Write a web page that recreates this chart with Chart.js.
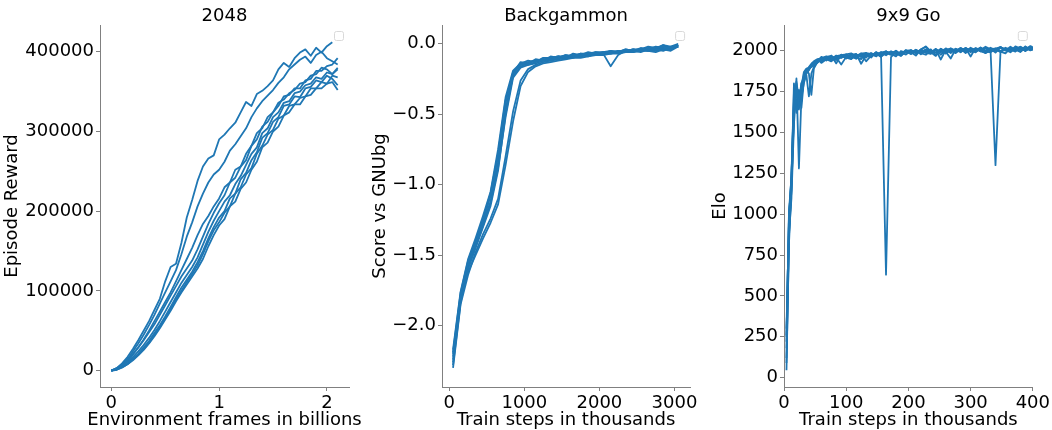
<!DOCTYPE html>
<html>
<head>
<meta charset="utf-8">
<title>Training curves</title>
<script src="https://cdn.jsdelivr.net/npm/chart.js@4.4.1/dist/chart.umd.min.js"></script>
<style>
  html, body { margin: 0; padding: 0; background: #fff; }
  body { width: 1052px; height: 430px; position: relative; overflow: hidden; }
  canvas { position: absolute; top: 0; }
</style>
</head>
<body>
<canvas id="chart2048" width="368" height="430" style="left:0"></canvas>
<canvas id="chartBackgammon" width="332" height="430" style="left:368px"></canvas>
<canvas id="chartGo" width="352" height="430" style="left:700px"></canvas>
<script>
// 2048 - frames in billions, episode reward in thousands (one array per seed)
const FRAMES = [0, 0.05, 0.1, 0.15, 0.2, 0.25, 0.3, 0.35, 0.4, 0.45, 0.5, 0.55, 0.6, 0.65, 0.7, 0.75, 0.8, 0.85, 0.9, 0.95,
  1.0, 1.05, 1.1, 1.15, 1.2, 1.25, 1.3, 1.35, 1.4, 1.45, 1.5, 1.55, 1.6, 1.65, 1.7, 1.75, 1.8, 1.85, 1.9, 1.95, 2.0, 2.05, 2.1];
const REWARD_A = [0, 3, 9, 17, 27, 38, 50, 62, 76, 90, 112, 130, 134, 160, 192, 214, 238, 256, 266, 270,
  290, 296, 304, 311, 324, 337, 332, 347, 351, 357, 364, 378, 386, 381, 392, 399, 403, 395, 405, 399, 407, 412];
const REWARD_B = [0, 2, 7, 14, 24, 34, 45, 57, 70, 84, 98, 112, 126, 146, 168, 186, 206, 222, 236, 246,
  252, 262, 276, 284, 294, 304, 318, 329, 338, 345, 352, 361, 368, 378, 384, 390, 394, 386, 396, 400, 392, 388, 384];
const REWARD_C = [0, 2, 6, 12, 20, 29, 39, 50, 62, 74, 86, 98, 112, 126, 140, 154, 170, 184, 194, 206,
  216, 230, 236, 252, 256, 272, 282, 298, 304, 318, 324, 336, 340, 348, 352, 360, 362, 370, 372, 380, 378, 372, 380];
const REWARD_D = [0, 2, 6, 11, 17, 24, 32, 41, 51, 62, 74, 86, 98, 110, 120, 130, 142, 158, 174, 188,
  200, 212, 220, 234, 244, 258, 272, 280, 298, 304, 318, 324, 336, 338, 348, 350, 358, 360, 368, 366, 374, 372, 378];
const REWARD_E = [0, 2, 5, 9, 15, 21, 29, 37, 47, 57, 68, 80, 92, 104, 114, 124, 136, 150, 166, 180,
  192, 200, 216, 222, 240, 248, 264, 274, 292, 298, 312, 318, 332, 334, 344, 343, 354, 356, 364, 362, 370, 366, 358];
const REWARD_F = [0, 1, 4, 8, 14, 20, 27, 35, 45, 55, 66, 77, 89, 100, 111, 121, 132, 146, 162, 176,
  186, 198, 206, 222, 230, 246, 254, 272, 282, 296, 302, 316, 320, 332, 334, 342, 344, 354, 354, 362, 360, 370, 368];
const REWARD_G = [0, 1, 4, 8, 13, 19, 26, 34, 43, 53, 64, 75, 87, 98, 108, 118, 128, 140, 156, 170,
  182, 190, 206, 212, 228, 236, 252, 262, 280, 286, 300, 306, 320, 324, 334, 334, 344, 346, 354, 354, 360, 362, 352];
const REWARD_H = [0, 3, 8, 14, 21, 29, 38, 48, 58, 70, 82, 94, 106, 118, 128, 138, 152, 168, 184, 198,
  210, 220, 236, 242, 256, 264, 282, 290, 306, 312, 324, 332, 344, 346, 354, 354, 364, 366, 376, 376, 382, 384, 392];
const FRAME_TICKS = [0, 1, 2];
const REWARD_TICKS = [0, 100000, 200000, 300000, 400000];

// Backgammon - train steps in thousands, score vs GNUbg
const BG_STEPS = [50, 150, 250, 350, 450, 550, 650, 750, 850, 950, 1050, 1150, 1250, 1350, 1450, 1550,
  1650, 1750, 1850, 1950, 2050, 2150, 2250, 2350, 2450, 2550, 2650, 2750, 2850, 2950, 3050];
const BG_1 = [-2.20, -1.80, -1.56, -1.42, -1.26, -1.08, -0.80, -0.42, -0.20, -0.15, -0.13, -0.12, -0.12, -0.10, -0.09, -0.09,
  -0.08, -0.08, -0.07, -0.07, -0.06, -0.06, -0.05, -0.05, -0.04, -0.05, -0.03, -0.03, -0.02, -0.03, -0.01];
const BG_2 = [-2.28, -1.84, -1.60, -1.45, -1.30, -1.15, -0.90, -0.50, -0.22, -0.14, -0.15, -0.13, -0.11, -0.11, -0.10, -0.08,
  -0.09, -0.07, -0.08, -0.06, -0.07, -0.05, -0.06, -0.04, -0.05, -0.03, -0.04, -0.02, -0.03, -0.04, -0.01];
const BG_3 = [-2.17, -1.76, -1.53, -1.38, -1.22, -1.05, -0.75, -0.38, -0.19, -0.14, -0.12, -0.13, -0.10, -0.10, -0.09, -0.10,
  -0.07, -0.08, -0.06, -0.07, -0.07, -0.16, -0.08, -0.05, -0.04, -0.04, -0.05, -0.03, -0.01, -0.02, -0.02];
const BG_4 = [-2.24, -1.82, -1.62, -1.50, -1.38, -1.27, -1.14, -0.86, -0.55, -0.30, -0.20, -0.16, -0.14, -0.13, -0.12, -0.11,
  -0.10, -0.10, -0.09, -0.08, -0.08, -0.07, -0.07, -0.06, -0.06, -0.05, -0.05, -0.04, -0.05, -0.03, -0.02];
const BG_5 = [-2.30, -1.85, -1.64, -1.48, -1.35, -1.24, -1.10, -0.80, -0.48, -0.26, -0.18, -0.15, -0.13, -0.12, -0.11, -0.10,
  -0.09, -0.09, -0.08, -0.08, -0.07, -0.07, -0.06, -0.05, -0.06, -0.04, -0.05, -0.06, -0.04, -0.05, -0.02];
const BG_6 = [-2.22, -1.79, -1.57, -1.41, -1.27, -1.12, -0.84, -0.46, -0.23, -0.16, -0.14, -0.12, -0.11, -0.12, -0.09, -0.10,
  -0.08, -0.09, -0.07, -0.08, -0.06, -0.07, -0.05, -0.06, -0.04, -0.05, -0.03, -0.04, -0.01, -0.03, -0.02];
const BG_7 = [-2.19, -1.77, -1.54, -1.40, -1.24, -1.06, -0.78, -0.40, -0.21, -0.13, -0.14, -0.11, -0.12, -0.09, -0.10, -0.08,
  -0.09, -0.07, -0.07, -0.06, -0.06, -0.05, -0.06, -0.04, -0.05, -0.04, -0.02, -0.03, -0.04, -0.02, 0.00];
const BG_8 = [-2.26, -1.81, -1.59, -1.44, -1.29, -1.13, -0.88, -0.52, -0.24, -0.17, -0.15, -0.14, -0.12, -0.11, -0.11, -0.09,
  -0.10, -0.08, -0.09, -0.07, -0.07, -0.06, -0.06, -0.05, -0.05, -0.06, -0.04, -0.05, -0.03, -0.04, -0.01];
const BG_STEP_TICKS = [0, 1000, 2000, 3000];
const BG_SCORE_TICKS = [-2.0, -1.5, -1.0, -0.5, 0.0];

// 9x9 Go - train steps in thousands, Elo
const GO_STEPS = [4, 8, 12, 16, 20, 24, 28, 32, 36, 40, 44, 48, 52, 56,
  60, 68, 76, 84, 92, 100, 108, 116, 124, 132, 140, 148, 156, 164, 172, 180, 188, 196, 204, 212, 220, 228,
  236, 244, 252, 260, 268, 276, 284, 292, 300, 308, 316, 324, 332, 340, 348, 356, 364, 372, 380, 388, 396, 404];
const GO_1 = [45, 860, 1180, 1640, 1810, 1650, 1700, 1860, 1880, 1890, 1900, 1910, 1925, 1935,
  1945, 1960, 1938, 1965, 1955, 1972, 1950, 1978, 1962, 1982, 1968, 1990, 1975, 630, 1960, 1992, 1972, 1998, 1980, 2004, 1985, 1975,
  2002, 1988, 2010, 1982, 2004, 1990, 2012, 1986, 2008, 1994, 2014, 1990, 1996, 2006, 1992, 2012, 1998, 2018, 1994, 2016, 2002, 2010];
const GO_2 = [250, 1000, 1200, 1800, 1620, 1690, 1780, 1870, 1890, 1895, 1905, 1920, 1930, 1940,
  1930, 1950, 1962, 1942, 1968, 1955, 1975, 1960, 1948, 1982, 1970, 1985, 1965, 1990, 1978, 1996, 1972, 1998, 1985, 2004, 1978, 2000,
  1990, 1968, 2008, 1992, 2004, 1985, 2010, 1996, 2002, 2014, 1995, 1988, 2012, 1998, 2020, 2004, 1990, 2016, 2022, 2000, 2014, 1998];
const GO_3 = [120, 900, 1150, 1600, 1830, 1280, 1720, 1800, 1860, 1880, 1910, 1925, 1935, 1945,
  1958, 1940, 1965, 1952, 1972, 1958, 1948, 1975, 1962, 1985, 1980, 1966, 1988, 1972, 1994, 1978, 1990, 1976, 2000, 1984, 1998, 1986,
  1980, 2006, 1990, 2004, 1992, 2010, 1996, 2014, 1998, 2010, 2002, 1985, 2004, 1300, 1990, 2012, 2000, 2020, 2004, 2024, 2006, 2018];
const GO_4 = [300, 950, 1250, 1700, 1660, 1750, 1650, 1820, 1850, 1720, 1860, 1900, 1920, 1940,
  1925, 1948, 1935, 1958, 1915, 1962, 1970, 1950, 1978, 1935, 1970, 1982, 1962, 1988, 1974, 1992, 1970, 1996, 1980, 2000, 1982, 2004,
  1990, 2010, 1975, 2006, 1985, 2012, 1994, 2016, 1990, 2012, 1996, 2018, 2000, 2010, 1994, 1984, 2016, 2002, 2020, 1998, 2024, 2008];
const GO_5 = [180, 880, 1100, 1550, 1780, 1700, 1800, 1840, 1870, 1890, 1915, 1930, 1940, 1950,
  1955, 1965, 1948, 1970, 1960, 1978, 1984, 1962, 1980, 1958, 1986, 1970, 1992, 1978, 1996, 1982, 1968, 1998, 2004, 1984, 2006, 1990,
  2008, 1972, 2012, 1996, 2014, 2000, 2016, 1994, 2018, 2002, 2020, 1998, 1990, 2012, 2022, 2000, 2024, 2006, 1992, 2026, 2004, 2030];
const GO_6 = [220, 1020, 1220, 1750, 1640, 1760, 1690, 1850, 1875, 1900, 1920, 1935, 1945, 1950,
  1940, 1962, 1968, 1950, 1972, 1978, 1960, 1955, 1982, 1986, 1962, 1990, 1974, 1996, 1980, 2000, 1978, 2004, 1990, 1970, 2008, 2024,
  1984, 2006, 1946, 2004, 2012, 1992, 2016, 2002, 2010, 1994, 2018, 2000, 2012, 1988, 2020, 2008, 1996, 2026, 2012, 2000, 2022, 2008];
const GO_7 = [90, 820, 1160, 1620, 1800, 1720, 1760, 1830, 1880, 1860, 1730, 1890, 1920, 1935,
  1962, 1945, 1970, 1922, 1976, 1960, 1980, 1966, 1984, 1972, 1958, 1990, 1974, 1994, 1982, 1965, 1998, 1986, 2002, 1990, 2006, 2026,
  1996, 1988, 2008, 1994, 1952, 2010, 1996, 2014, 1964, 2016, 2004, 2024, 2008, 2014, 1998, 2018, 2006, 1994, 2020, 2008, 2028, 2014];
const GO_8 = [260, 980, 1230, 1680, 1700, 1640, 1800, 1810, 1860, 1885, 1905, 1915, 1930, 1945,
  1936, 1958, 1944, 1966, 1972, 1952, 1974, 1980, 1920, 1970, 1982, 1966, 1988, 1996, 1980, 1998, 1974, 2000, 1986, 2006, 1990, 2008,
  1984, 2010, 1992, 2014, 1998, 2006, 1990, 2016, 2002, 1990, 2014, 2000, 2018, 2004, 2022, 2006, 2012, 2000, 2024, 2008, 2018, 2012];
const GO_STEP_TICKS = [0, 100, 200, 300, 400];
const ELO_TICKS = [0, 250, 500, 750, 1000, 1250, 1500, 1750, 2000];

// Styling
const BLUE = '#1f77b4';
const SPINE = '#808080';
const INK = '#000';
const FONT_FAMILY = "'DejaVu Sans', sans-serif";
const FONT = { family: FONT_FAMILY, size: 18, weight: 'normal' };
const TEXT_FONT = { family: FONT_FAMILY, size: 18, weight: 'normal', lineHeight: 1 };

function toPoints(xs, ys, factor = 1) {
  return ys.map((y, i) => ({ x: xs[i], y: y * factor }));
}

function lineSet(points) {
  return {
    data: points,
    borderColor: BLUE,
    borderWidth: 1.8,
    borderJoinStyle: 'round',
    pointRadius: 0,
    tension: 0,
    fill: false
  };
}

// matplotlib draws an empty legend frame in the top right corner,
// and lets the x label run wider than the axes, so draw both here
const panelExtras = {
  id: 'panelExtras',
  afterDraw(chart, args, opts) {
    const { ctx, chartArea } = chart;
    ctx.save();
    ctx.strokeStyle = '#d9d9d9';
    ctx.lineWidth = 1;
    ctx.beginPath();
    ctx.roundRect(chartArea.right - 14.5, 31.5, 9, 9, 2);
    ctx.stroke();

    ctx.fillStyle = INK;
    ctx.font = `18px ${FONT_FAMILY}`;
    ctx.textAlign = 'center';
    ctx.textBaseline = 'middle';
    ctx.fillText(opts.xTitle, (chartArea.left + chartArea.right) / 2, 420);
    ctx.restore();
  }
};

function makePanel(canvasId, p) {
  return new Chart(document.getElementById(canvasId), {
    type: 'line',
    data: { datasets: p.series.map(lineSet) },
    plugins: [panelExtras],
    options: {
      responsive: false,
      animation: false,
      devicePixelRatio: 1,
      layout: { padding: { left: 0, right: p.padRight, top: 0, bottom: 0 } },
      plugins: {
        legend: { display: false },
        tooltip: { enabled: false },
        panelExtras: { xTitle: p.xTitle },
        title: {
          display: true, text: p.title, color: INK, font: TEXT_FONT,
          fullSize: false, padding: { top: 7, bottom: 0 }
        }
      },
      scales: {
        x: {
          type: 'linear', min: p.xMin, max: p.xMax,
          afterBuildTicks: s => { s.ticks = p.xTicks.map(v => ({ value: v })); },
          afterFit: s => { s.height = 43; },
          grid: { drawOnChartArea: false, tickLength: 4, color: SPINE },
          border: { color: SPINE },
          ticks: { color: INK, font: FONT, padding: 2, maxRotation: 0, autoSkip: false, callback: v => String(v) }
        },
        y: {
          type: 'linear', min: p.yMin, max: p.yMax,
          afterBuildTicks: s => { s.ticks = p.yTicks.map(v => ({ value: v })); },
          afterFit: s => { s.width = p.leftWidth; },
          grid: { drawOnChartArea: false, tickLength: 4, color: SPINE },
          border: { color: SPINE },
          ticks: { color: INK, font: FONT, padding: 2, autoSkip: false, callback: p.fmtY },
          title: { display: true, text: p.yTitle, color: INK, font: TEXT_FONT, padding: { top: p.yTitlePad, bottom: 0 } }
        }
      }
    }
  });
}

const minusFixed = v => (v < 0 ? '\u2212' + Math.abs(v).toFixed(1) : v.toFixed(1));

makePanel('chart2048', {
  title: '2048',
  xTitle: 'Environment frames in billions',
  yTitle: 'Episode Reward',
  series: [REWARD_A, REWARD_B, REWARD_C, REWARD_D, REWARD_E, REWARD_F, REWARD_G, REWARD_H]
    .map(r => toPoints(FRAMES, r, 1000)),
  xMin: -0.105, xMax: 2.205, yMin: -20600, yMax: 433600,
  xTicks: FRAME_TICKS, yTicks: REWARD_TICKS,
  fmtY: v => String(v),
  leftWidth: 100, padRight: 19, yTitlePad: 3
});

makePanel('chartBackgammon', {
  title: 'Backgammon',
  xTitle: 'Train steps in thousands',
  yTitle: 'Score vs GNUbg',
  series: [BG_1, BG_2, BG_3, BG_4, BG_5, BG_6, BG_7, BG_8].map(s => toPoints(BG_STEPS, s)),
  xMin: -97, xMax: 3208, yMin: -2.435, yMax: 0.133,
  xTicks: BG_STEP_TICKS, yTicks: BG_SCORE_TICKS,
  fmtY: minusFixed,
  leftWidth: 74, padRight: 8, yTitlePad: 3
});

makePanel('chartGo', {
  title: '9x9 Go',
  xTitle: 'Train steps in thousands',
  yTitle: 'Elo',
  series: [GO_1, GO_2, GO_3, GO_4, GO_5, GO_6, GO_7, GO_8].map(s => toPoints(GO_STEPS, s)),
  xMin: 0, xMax: 400, yMin: -57, yMax: 2157,
  xTicks: GO_STEP_TICKS, yTicks: ELO_TICKS,
  fmtY: v => String(v),
  leftWidth: 84, padRight: 19, yTitlePad: 11
});
</script>
</body>
</html>
